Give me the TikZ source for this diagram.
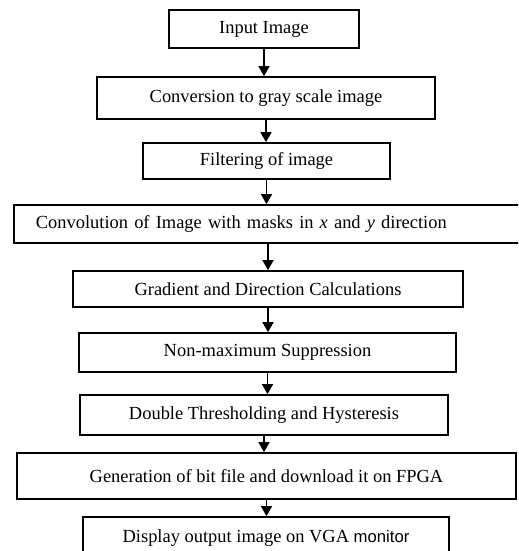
\documentclass[tikz,border=0pt]{standalone}
\usepackage{fontspec}
\setmainfont{Liberation Serif}
\newfontfamily\monfont{Liberation Sans}
\usepackage{tikz}
\usetikzlibrary{arrows.meta, positioning, calc}
\tikzstyle{stage} = [draw, line width=1pt, rectangle, inner sep=0pt, font=\fontsize{10.5}{12}\selectfont]
\tikzstyle{arrow} = [line width=1pt, -{Triangle[width=0.22cm, length=0.2cm]}]

\begin{document}
\begin{tikzpicture}[x=0.02cm, y=-0.02cm]
% Canvas (pixel units, y down)
\useasboundingbox (0,0) rectangle (518,551);
\clip (0,0) rectangle (518,551);

% Processing stages
\node[stage, minimum width=3.8cm, minimum height=0.76cm] (input) at (264,29) {Input Image};
\node[stage, minimum width=6.76cm, minimum height=0.84cm] (gray) at (266,98) {Conversion to gray scale image};
\node[stage, minimum width=4.94cm, minimum height=0.72cm] (filter) at (266.5,161) {Filtering of image};
\node[stage, anchor=west, minimum height=0.76cm, inner xsep=0.44cm, text width=9.46cm, align=left] (conv) at (13,224) {Convolution of Image with masks in \textit{x} and \textit{y} direction};
\node[stage, minimum width=7.8cm, minimum height=0.72cm] (grad) at (268,289) {Gradient and Direction Calculations};
\node[stage, minimum width=7.54cm, minimum height=0.78cm] (nms) at (267.5,352.5) {Non-maximum Suppression};
\node[stage, minimum width=7.36cm, minimum height=0.8cm] (thresh) at (264,415) {Double Thresholding and Hysteresis};
\node[stage, minimum width=9.98cm, minimum height=0.92cm] (fpga) at (266.5,476) {Generation of bit file and download it on FPGA};
\node[stage, minimum width=7.32cm, minimum height=0.86cm] (vga) at (266,538.5) {Display output image on VGA {\monfont\fontsize{9.5}{12}\selectfont monitor}};

% Flow arrows
\draw[arrow] (input.south) -- (input.south |- gray.north);
\draw[arrow] (gray.south) -- (gray.south |- filter.north);
\draw[arrow] (filter.south) -- (filter.south |- conv.north);
\draw[arrow] (grad.north |- conv.south) -- (grad.north);
\draw[arrow] (grad.south) -- (grad.south |- nms.north);
\draw[arrow] (nms.south) -- (nms.south |- thresh.north);
\draw[arrow] (thresh.south) -- (thresh.south |- fpga.north);
\draw[arrow] (fpga.south) -- (fpga.south |- vga.north);

\end{tikzpicture}
\end{document}
